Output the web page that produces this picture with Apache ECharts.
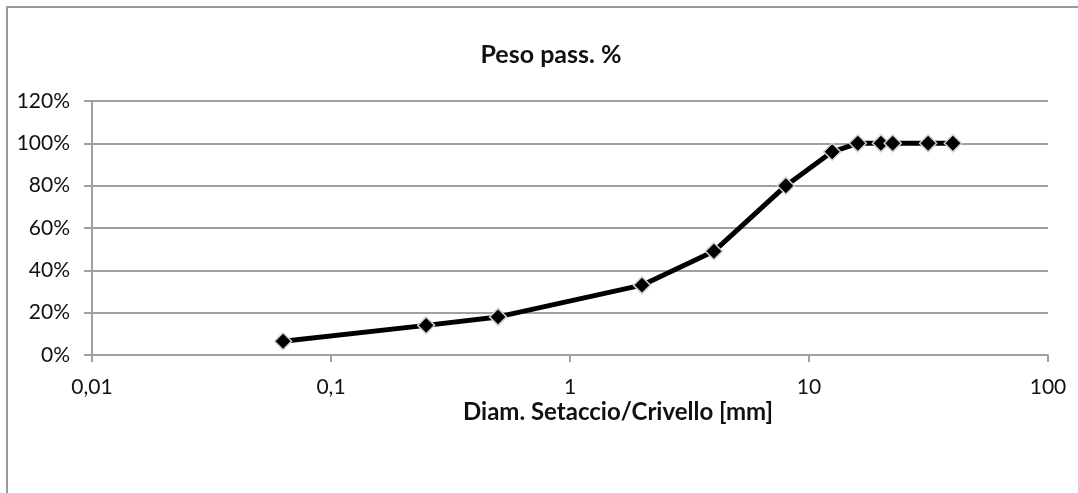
<!DOCTYPE html>
<html>
<head>
<meta charset="utf-8">
<script src="https://cdn.jsdelivr.net/npm/echarts@6/dist/echarts.min.js"></script>
<style>html,body{margin:0;padding:0;background:#fff;}#c{width:1078px;height:493px;}</style>
</head>
<body>
<div id="c"></div>
<script>
var diameters = [0.063, 0.25, 0.5, 2, 4, 8, 12.5, 16, 20, 22.4, 31.5, 40];
var passing = [6.5, 14, 18, 33, 49, 80, 96, 100, 100, 100, 100, 100];
var titleText = 'Peso pass. %';
var xName = 'Diam. Setaccio/Crivello [mm]';

var FONT = 'Lato';
var chart = echarts.init(document.getElementById('c'), null, {renderer: 'canvas'});
chart.setOption({
  animation: false,
  backgroundColor: '#fff',
  textStyle: {fontFamily: FONT},
  title: {
    text: titleText,
    left: 546, top: 37, textAlign: 'center',
    textStyle: {fontFamily: FONT, fontSize: 25, fontWeight: 'bold', color: '#111'}
  },
  grid: {left: 92, right: 30, top: 101, bottom: 138, containLabel: false},
  xAxis: {
    type: 'log', logBase: 10, min: 0.01, max: 100,
    axisLine: {show: true, lineStyle: {color: '#a0a0a0', width: 2}},
    axisTick: {show: true, length: 7, lineStyle: {color: '#a0a0a0', width: 2}},
    minorTick: {show: false},
    splitLine: {show: false},
    axisLabel: {
      margin: 22, fontSize: 21, color: '#111', fontFamily: FONT,
      formatter: function (v) { return String(+v.toPrecision(6)).replace('.', ','); }
    }
  },
  yAxis: {
    type: 'value', min: 0, max: 120, interval: 20,
    axisLine: {show: true, lineStyle: {color: '#a0a0a0', width: 2}},
    axisTick: {show: true, length: 8, lineStyle: {color: '#a0a0a0', width: 2}},
    splitLine: {show: true, lineStyle: {color: '#a0a0a0', width: 2}},
    axisLabel: {margin: 22, fontSize: 21, color: '#111', fontFamily: FONT, formatter: '{value}%'}
  },
  graphic: [
    {type: 'rect', shape: {x: 7, y: 7, width: 1200, height: 600},
     style: {fill: 'none', stroke: '#9a9a9a', lineWidth: 2}, z: -1},
    {type: 'text', left: 463, top: 400,
     style: {text: xName, fontFamily: FONT, fontSize: 24, fontWeight: 'bold', fill: '#111'}}
  ],
  series: [{
    type: 'line',
    data: diameters.map(function (d, i) { return [d, passing[i]]; }),
    symbol: 'diamond', symbolSize: 17,
    lineStyle: {color: '#000', width: 5},
    itemStyle: {color: '#000', borderColor: '#d0d0d0', borderWidth: 1.5},
    emphasis: {disabled: true}
  }]
});
</script>
</body>
</html>
